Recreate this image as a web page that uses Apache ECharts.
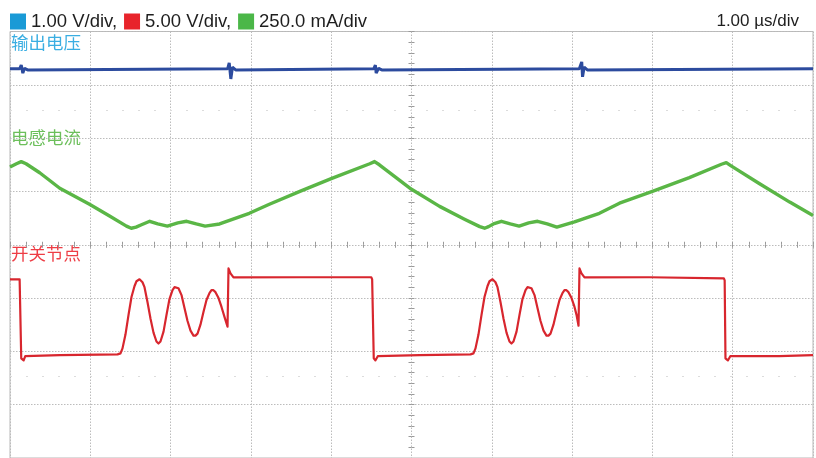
<!DOCTYPE html>
<html>
<head>
<meta charset="utf-8">
<script src="https://cdn.jsdelivr.net/npm/echarts@6/dist/echarts.min.js"></script>
<style>html,body{margin:0;padding:0;background:#fff}#c{width:816px;height:458px}</style>
</head>
<body>
<div id="c"></div>
<script>
// time in µs (screen centre = 0), level in divisions (screen centre = 0)
const voutT = [-5.0,-4.88,-4.86,-4.84,-4.82,-4.78,-2.29,-2.27,-2.25,-2.23,-2.19,-0.47,-0.45,-0.44,-0.41,-0.37,2.09,2.12,2.13,2.15,2.19,5.0];
const voutV = [3.30,3.30,3.37,3.22,3.31,3.28,3.30,3.41,3.11,3.33,3.28,3.30,3.37,3.22,3.31,3.28,3.30,3.43,3.15,3.33,3.28,3.30];

const ilT = [-5.0,-4.92,-4.86,-4.80,-4.63,-4.38,-4.01,-3.76,-3.55,-3.49,-3.43,-3.37,-3.26,-3.16,-3.04,-2.91,-2.80,-2.68,-2.57,-2.39,-2.02,-1.77,-1.39,-1.00,-0.52,-0.46,-0.40,0.00,0.35,0.66,0.85,0.91,0.96,1.02,1.12,1.23,1.34,1.46,1.57,1.69,1.81,2.03,2.34,2.59,3.00,3.46,3.86,3.92,3.98,4.33,4.71,5.0];
const ilV = [1.46,1.52,1.56,1.52,1.35,1.06,0.76,0.54,0.35,0.31,0.33,0.37,0.44,0.39,0.35,0.41,0.44,0.39,0.35,0.39,0.59,0.76,1.00,1.24,1.52,1.56,1.50,1.04,0.72,0.48,0.34,0.31,0.34,0.39,0.44,0.39,0.35,0.41,0.44,0.39,0.33,0.43,0.59,0.78,1.00,1.26,1.51,1.54,1.48,1.15,0.80,0.55];

const swT = [-5.0,-4.88,-4.87,-4.86,-4.83,-4.81,-4.38,-3.89,
  -3.661,-3.624,-3.599,-3.562,-3.524,-3.487,-3.450,-3.425,-3.387,-3.350,-3.325,-3.288,-3.250,-3.213,-3.176,-3.151,-3.126,-3.088,-3.051,-3.014,-2.976,-2.951,-2.927,-2.902,-2.864,-2.827,-2.790,-2.752,-2.715,-2.690,-2.665,-2.628,-2.590,-2.553,-2.516,-2.491,-2.466,-2.441,-2.403,-2.366,-2.329,-2.291,
  -2.279,-2.254,-2.217,-1.39,-0.50,-0.49,-0.47,-0.45,-0.42,0.10,
  0.735,0.772,0.797,0.834,0.872,0.909,0.946,0.971,1.009,1.046,1.071,1.108,1.146,1.183,1.220,1.245,1.270,1.308,1.345,1.382,1.420,1.445,1.469,1.494,1.532,1.569,1.606,1.644,1.681,1.706,1.731,1.768,1.806,1.843,1.880,1.905,1.930,1.955,1.993,2.030,2.055,2.080,
  2.092,2.117,2.154,2.96,3.89,3.90,3.91,3.94,3.97,4.58,5.0];
const swV = [-0.65,-0.65,-0.67,-2.13,-2.17,-2.09,-2.07,-2.06,
  -2.056,-2.037,-1.944,-1.685,-1.315,-0.981,-0.778,-0.685,-0.648,-0.704,-0.796,-1.074,-1.389,-1.648,-1.815,-1.852,-1.815,-1.630,-1.315,-1.019,-0.852,-0.796,-0.778,-0.815,-0.944,-1.185,-1.426,-1.611,-1.704,-1.704,-1.667,-1.500,-1.259,-1.037,-0.907,-0.852,-0.852,-0.889,-1.000,-1.167,-1.352,-1.537,
  -0.444,-0.537,-0.611,-0.61,-0.61,-0.65,-2.13,-2.17,-2.09,-2.07,
  -2.056,-2.037,-1.944,-1.685,-1.315,-0.981,-0.778,-0.685,-0.648,-0.704,-0.796,-1.074,-1.389,-1.648,-1.815,-1.852,-1.815,-1.630,-1.315,-1.019,-0.852,-0.796,-0.778,-0.815,-0.944,-1.185,-1.426,-1.611,-1.704,-1.704,-1.667,-1.500,-1.259,-1.037,-0.907,-0.852,-0.852,-0.889,-1.000,-1.167,-1.315,-1.519,
  -0.444,-0.537,-0.611,-0.61,-0.63,-0.67,-2.13,-2.17,-2.09,-2.09,-2.07];

const scaleNames = ['1.00 V/div,', '5.00 V/div,', '250.0 mA/div'];
const scaleColors = ['#1a9ad6', '#e8242b', '#4bb748'];
const traceLabels = ['输出电压', '电感电流', '开关节点'];
const timeScale = '1.00 µs/div';
const cursorLevels = [2.53, -2.47];

const zip = (a, b) => a.map((t, i) => [t, b[i]]);
const gridLine = { show: true, lineStyle: { color: '#bcbcbc', type: [1.5, 1.5], width: 1 } };
const tickStyle = { color: '#9a9a9a', width: 1 };

const chart = echarts.init(document.getElementById('c'), null, { renderer: 'canvas' });
chart.setOption({
  animation: false,
  backgroundColor: '#fff',
  grid: { left: 10, top: 31.5, width: 803, height: 432, show: true, borderColor: '#b8b8b8', borderWidth: 1, containLabel: false },
  legend: {
    left: 10, top: 12, padding: 0, itemWidth: 16, itemHeight: 16, itemGap: 7, icon: 'rect', selectedMode: false,
    textStyle: { fontSize: 18.5, color: '#1e1e1e', fontFamily: 'Liberation Sans, Arial, sans-serif' },
    data: scaleNames.map((n, i) => ({ name: n, itemStyle: { color: scaleColors[i] } }))
  },
  xAxis: [
    { type: 'value', min: -5, max: 5, interval: 1, position: 'bottom',
      axisLine: { show: false, onZero: true }, axisLabel: { show: false },
      axisTick: { show: true, inside: true, length: 3, lineStyle: tickStyle },
      minorTick: { show: true, splitNumber: 5, length: 3, lineStyle: tickStyle },
      splitLine: gridLine },
    { type: 'value', min: -5, max: 5, interval: 1, position: 'top',
      axisLine: { show: false, onZero: true }, axisLabel: { show: false },
      axisTick: { show: true, inside: true, length: 3, lineStyle: tickStyle },
      minorTick: { show: true, splitNumber: 5, length: 3, lineStyle: tickStyle },
      splitLine: { show: false } }
  ],
  yAxis: [
    { type: 'value', min: -4, max: 4, interval: 1, position: 'left',
      axisLine: { show: false, onZero: true }, axisLabel: { show: false },
      axisTick: { show: true, inside: true, length: 3, lineStyle: tickStyle },
      minorTick: { show: true, splitNumber: 5, length: 3, lineStyle: tickStyle },
      splitLine: gridLine },
    { type: 'value', min: -4, max: 4, interval: 1, position: 'right',
      axisLine: { show: false, onZero: true }, axisLabel: { show: false },
      axisTick: { show: true, inside: true, length: 3, lineStyle: tickStyle },
      minorTick: { show: true, splitNumber: 5, length: 3, lineStyle: tickStyle },
      splitLine: { show: false } }
  ],
  series: [
    { name: scaleNames[2], type: 'line', showSymbol: false, data: zip(ilT, ilV),
      lineStyle: { color: '#5ab646', width: 3.4, join: 'round' }, itemStyle: { color: '#5ab646' },
      markLine: { silent: true, symbol: 'none', label: { show: false },
        lineStyle: { color: '#dcdcdc', type: [2, 14], width: 1 },
        data: cursorLevels.map(v => ({ yAxis: v })) } },
    { name: scaleNames[1], type: 'line', showSymbol: false, data: zip(swT, swV),
      lineStyle: { color: '#d8262e', width: 2.2, join: 'round' }, itemStyle: { color: '#d8262e' } },
    { name: scaleNames[0], type: 'line', showSymbol: false, data: zip(voutT, voutV),
      lineStyle: { color: '#2c4b9e', width: 3 }, itemStyle: { color: '#2c4b9e' } }
  ],
  graphic: [
    { type: 'text', right: 17, top: 13, style: { text: timeScale, fontSize: 17, fill: '#1e1e1e', fontFamily: 'Liberation Sans, Arial, sans-serif' } },
    { type: 'text', left: 11, top: 34, style: { text: traceLabels[0], fontSize: 17.5, fill: '#3aaee2', fontFamily: 'Noto Sans CJK SC' } },
    { type: 'text', left: 11, top: 129, style: { text: traceLabels[1], fontSize: 17.5, fill: '#6cbf5b', fontFamily: 'Noto Sans CJK SC' } },
    { type: 'text', left: 11, top: 245, style: { text: traceLabels[2], fontSize: 17.5, fill: '#ee3d45', fontFamily: 'Noto Sans CJK SC' } }
  ]
});
</script>
</body>
</html>
